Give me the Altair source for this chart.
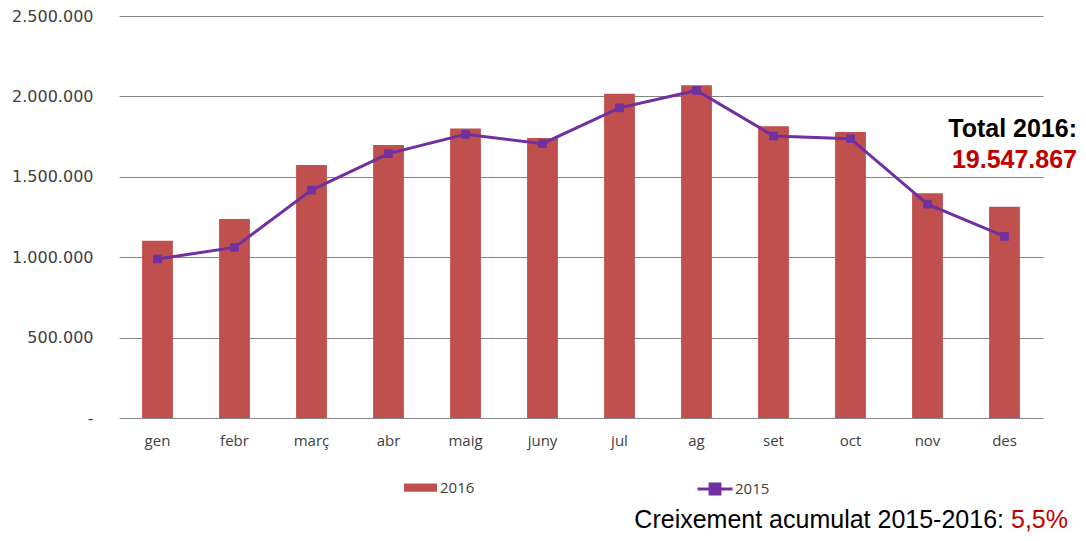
import altair as alt
import pandas as pd

months = ["gen", "febr", "març", "abr", "maig", "juny", "jul", "ag", "set", "oct", "nov", "des"]
v2016 = [1103000, 1238000, 1573000, 1697000, 1800000, 1742000, 2017000, 2069000, 1815000, 1779000, 1397000, 1314000]
v2015 = [989000, 1061000, 1417000, 1644000, 1764000, 1706000, 1929000, 2037000, 1754000, 1737000, 1330000, 1129000]
y_ticks = [0, 500000, 1000000, 1500000, 2000000, 2500000]
total_label = ["Total 2016:"]
total_value = ["19.547.867"]
growth_label = ["Creixement acumulat 2015-2016:"]
growth_value = ["5,5%"]

BAR = "#C0504D"
LINE = "#7030A0"
RED = "#C00000"

df = pd.DataFrame({"mes": months, "v2016": v2016, "v2015": v2015})
df["s16"] = "2016"
df["s15"] = "2015"

x_enc = alt.X(
    "mes:N", sort=months, title=None,
    scale=alt.Scale(paddingInner=0.6, paddingOuter=0.3),
    axis=alt.Axis(labelAngle=0, domain=False, ticks=False, grid=False,
                  labelFont="Open Sans", labelFontSize=15, labelColor="#404040",
                  labelPadding=15),
)
y_scale = alt.Scale(domain=[0, 2500000], nice=False, zero=True)

zero_label = "-\u00a0\u00a0"

bars = alt.Chart(df).mark_bar().encode(
    x=x_enc,
    y=alt.Y("v2016:Q", scale=y_scale, title=None,
            axis=alt.Axis(values=y_ticks, domain=False, ticks=False, grid=True,
                          gridColor="#868686", gridWidth=1,
                          labelFont="DejaVu Sans", labelFontSize=16, labelColor="#404040",
                          labelPadding=26,
                          labelExpr="datum.value == 0 ? '" + zero_label + "' : replace(format(datum.value, ',.0f'), regexp(',', 'g'), '.')")),
    color=alt.Color("s16:N", scale=alt.Scale(domain=["2016"], range=[BAR]),
                    legend=alt.Legend(title=None, orient="none", legendX=285, legendY=455,
                                      symbolType="M-1,-0.25H1V0.25H-1Z", symbolSize=1089,
                                      symbolStrokeWidth=0, symbolOpacity=1,
                                      labelFont="Open Sans", labelFontSize=15,
                                      labelColor="#404040", labelOffset=3, padding=0)),
)

line = alt.Chart(df).mark_line(strokeWidth=3).encode(
    x=alt.X("mes:N", sort=months),
    y=alt.Y("v2015:Q", scale=y_scale),
    color=alt.Color("s15:N", scale=alt.Scale(domain=["2015"], range=[LINE]),
                    legend=alt.Legend(title=None, orient="none", legendX=577, legendY=454,
                                      symbolType="M-1,0H1M-0.28,-0.28H0.28V0.28H-0.28Z",
                                      symbolSize=1225, symbolStrokeWidth=3,
                                      symbolFillColor=LINE, symbolStrokeColor=LINE,
                                      labelFont="Open Sans", labelFontSize=15,
                                      labelColor="#404040", labelOffset=1, padding=0)),
)

pts = alt.Chart(df).mark_point(shape="square", filled=True, size=75, opacity=1, color=LINE).encode(
    x=alt.X("mes:N", sort=months),
    y=alt.Y("v2015:Q", scale=y_scale),
)

t1 = alt.Chart(pd.DataFrame({"t": total_label})).mark_text(
    align="right", baseline="alphabetic", font="Liberation Sans", fontSize=25,
    fontWeight="bold", color="#000000",
).encode(x=alt.value(958), y=alt.value(121), text="t:N")

t2 = alt.Chart(pd.DataFrame({"t": total_value})).mark_text(
    align="right", baseline="alphabetic", font="Liberation Sans", fontSize=25,
    fontWeight="bold", color=RED,
).encode(x=alt.value(958), y=alt.value(152), text="t:N")

t3 = alt.Chart(pd.DataFrame({"t": growth_label})).mark_text(
    align="right", baseline="alphabetic", font="Liberation Sans", fontSize=25,
    color="#000000",
).encode(x=alt.value(885), y=alt.value(512), text="t:N")

t4 = alt.Chart(pd.DataFrame({"t": growth_value})).mark_text(
    align="right", baseline="alphabetic", font="Liberation Sans", fontSize=25,
    color=RED,
).encode(x=alt.value(949), y=alt.value(512), text="t:N")

chart = alt.layer(bars, line, pts, t1, t2, t3, t4).resolve_scale(
    color="independent"
).properties(
    width=924, height=402,
    autosize=alt.AutoSizeParams(type="none"),
    padding={"left": 111, "top": 8, "right": 35, "bottom": 115},
).configure_view(stroke=None)

chart.save("out.html", embed_options={"renderer": "svg", "actions": False})
